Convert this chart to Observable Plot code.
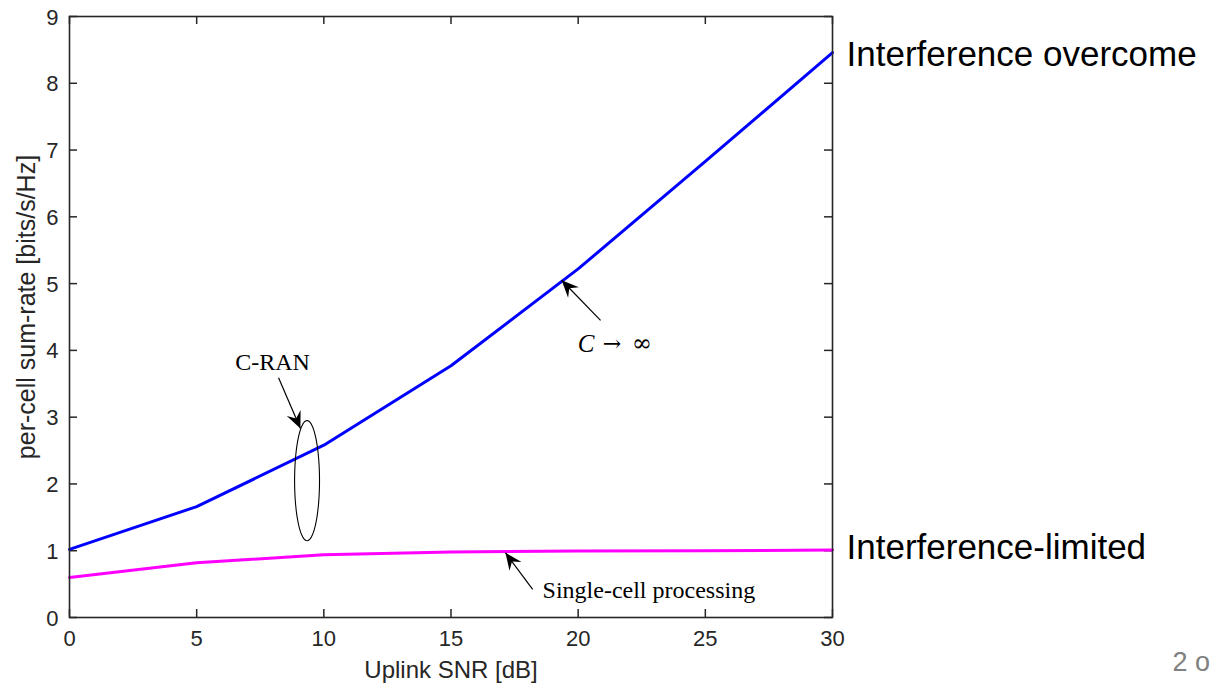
<!DOCTYPE html>
<html>
<head>
<meta charset="utf-8">
<script src="https://cdn.jsdelivr.net/npm/d3@7"></script>
<script src="https://cdn.jsdelivr.net/npm/@observablehq/plot@0.6"></script>
<style>
  html, body { margin: 0; padding: 0; background: #fff; }
  #chart { width: 1222px; height: 689px; overflow: hidden; }
</style>
</head>
<body>
<div id="chart"></div>
<script>
// ---- data ----
const snr = [0, 5, 10, 15, 20, 25, 30];
const cranRate = [1.02, 1.66, 2.58, 3.77, 5.22, 6.83, 8.46];
const singleRate = [0.60, 0.82, 0.94, 0.98, 0.995, 1.0, 1.01];
const xTicks = [0, 5, 10, 15, 20, 25, 30];
const yTicks = [0, 1, 2, 3, 4, 5, 6, 7, 8, 9];
const xLabel = "Uplink SNR [dB]";
const yLabel = "per-cell sum-rate [bits/s/Hz]";
const rightLabels = [
  {text: "Interference overcome", y: 8.43},
  {text: "Interference-limited", y: 1.05}
];
const cranLabel = {text: "C-RAN", x: 7.98, y: 3.82};
const singleLabel = {text: "Single-cell processing", x: 18.6, y: 0.41};
const limitLabel = {x: 19.98, y: 4.10, parts: [
  {text: "C", italic: true, dx: 0, font: "'Liberation Serif', serif", size: 25},
  {text: "→", italic: false, dx: 25, font: "'DejaVu Serif', serif", size: 22},
  {text: "∞", italic: false, dx: 54, font: "'DejaVu Serif', serif", size: 24}
]};
const arrows = [
  {x1: 8.22, y1: 3.59, x2: 9.08, y2: 2.83},
  {x1: 20.88, y1: 4.45, x2: 19.35, y2: 5.05},
  {x1: 18.21, y1: 0.42, x2: 17.14, y2: 0.97}
];
const ellipse = {cx: 9.34, cy: 2.05, rx: 0.49, ry: 0.90};
const pageMark = "2 o";

// ---- layout ----
const W = 1222, H = 689;
const mt = 16, mr = 390, mb = 72, ml = 69;
const iw = W - ml - mr, ih = H - mt - mb;
const kx = iw / 30, ky = ih / 9;
const ink = "#262626";

const series = [
  ...snr.map((x, i) => ({x, y: cranRate[i], s: "cran"})),
  ...snr.map((x, i) => ({x, y: singleRate[i], s: "single"}))
];
const ellipsePts = d3.range(0, 73).map(i => {
  const t = i / 72 * 2 * Math.PI;
  return {x: ellipse.cx + ellipse.rx * Math.cos(t), y: ellipse.cy + ellipse.ry * Math.sin(t)};
});
const headSymbol = {
  draw(ctx) {
    ctx.moveTo(0, 0);
    ctx.lineTo(-7.5, 17);
    ctx.lineTo(0, 11);
    ctx.lineTo(7.5, 17);
    ctx.closePath();
  }
};
const arrowAngle = d => Math.atan2((d.x2 - d.x1) * kx, (d.y2 - d.y1) * ky) * 180 / Math.PI;

const serif = "'Liberation Serif', 'Times New Roman', serif";

const plot = Plot.plot({
  width: W, height: H,
  marginTop: mt, marginRight: mr, marginBottom: mb, marginLeft: ml,
  x: {domain: [0, 30], axis: null},
  y: {domain: [0, 9], axis: null},
  style: {fontFamily: "'Liberation Sans', Arial, sans-serif", fontSize: "22px", background: "#fff", overflow: "visible"},
  marks: [
    // tick labels
    Plot.text(xTicks, {x: d => d, frameAnchor: "bottom", dy: 28, text: d => String(d), textAnchor: "middle", fontSize: 22, fill: ink}),
    Plot.text(yTicks, {y: d => d, frameAnchor: "left", dx: -11, dy: 1, text: d => String(d), textAnchor: "end", fontSize: 22, fill: ink}),
    // inward ticks on all four sides
    Plot.ruleX(xTicks, {x: d => d, insetTop: ih - 8, stroke: ink, strokeWidth: 1.5}),
    Plot.ruleX(xTicks, {x: d => d, insetBottom: ih - 8, stroke: ink, strokeWidth: 1.5}),
    Plot.ruleY(yTicks, {y: d => d, insetRight: iw - 8, stroke: ink, strokeWidth: 1.5}),
    Plot.ruleY(yTicks, {y: d => d, insetLeft: iw - 8, stroke: ink, strokeWidth: 1.5}),
    Plot.line(series, {x: "x", y: "y", z: "s", stroke: d => d.s === "cran" ? "#0000ff" : "#ff00ff", strokeWidth: 3, strokeLinejoin: "round"}),
    Plot.frame({stroke: ink, strokeWidth: 1.6}),
    Plot.line(ellipsePts, {x: "x", y: "y", stroke: "#000", strokeWidth: 1.1}),
    Plot.link(arrows, {x1: "x1", y1: "y1", x2: "x2", y2: "y2", stroke: "#000", strokeWidth: 1.2}),
    Plot.dot(arrows, {x: "x2", y: "y2", rotate: arrowAngle, symbol: headSymbol, fill: "#000", stroke: "none"}),
    Plot.text([cranLabel], {x: "x", y: "y", text: "text", textAnchor: "middle", fontFamily: serif, fontSize: 24, fill: "#000"}),
    Plot.text([singleLabel], {x: "x", y: "y", text: "text", textAnchor: "start", fontFamily: serif, fontSize: 24, fill: "#000"}),
    ...limitLabel.parts.map(p => Plot.text([limitLabel], {x: "x", y: "y", text: () => p.text, dx: p.dx, textAnchor: "start", fontFamily: p.font, fontStyle: p.italic ? "italic" : "normal", fontSize: p.size, fill: "#000"})),
    Plot.text(rightLabels, {frameAnchor: "right", y: "y", text: "text", dx: 14, textAnchor: "start", fontSize: 35, fill: "#000"}),
    Plot.text([xLabel], {frameAnchor: "bottom", text: d => d, dy: 60, textAnchor: "middle", fontSize: 24, fill: ink}),
    Plot.text([yLabel], {frameAnchor: "left", text: d => d, rotate: -90, dx: -43, dy: -10, textAnchor: "middle", fontSize: 25, fill: ink}),
    Plot.text([pageMark], {frameAnchor: "bottom-right", text: d => d, dx: 340, dy: 53, textAnchor: "start", fontSize: 27, fill: "#808080"})
  ]
});
document.getElementById("chart").appendChild(plot);
</script>
</body>
</html>
